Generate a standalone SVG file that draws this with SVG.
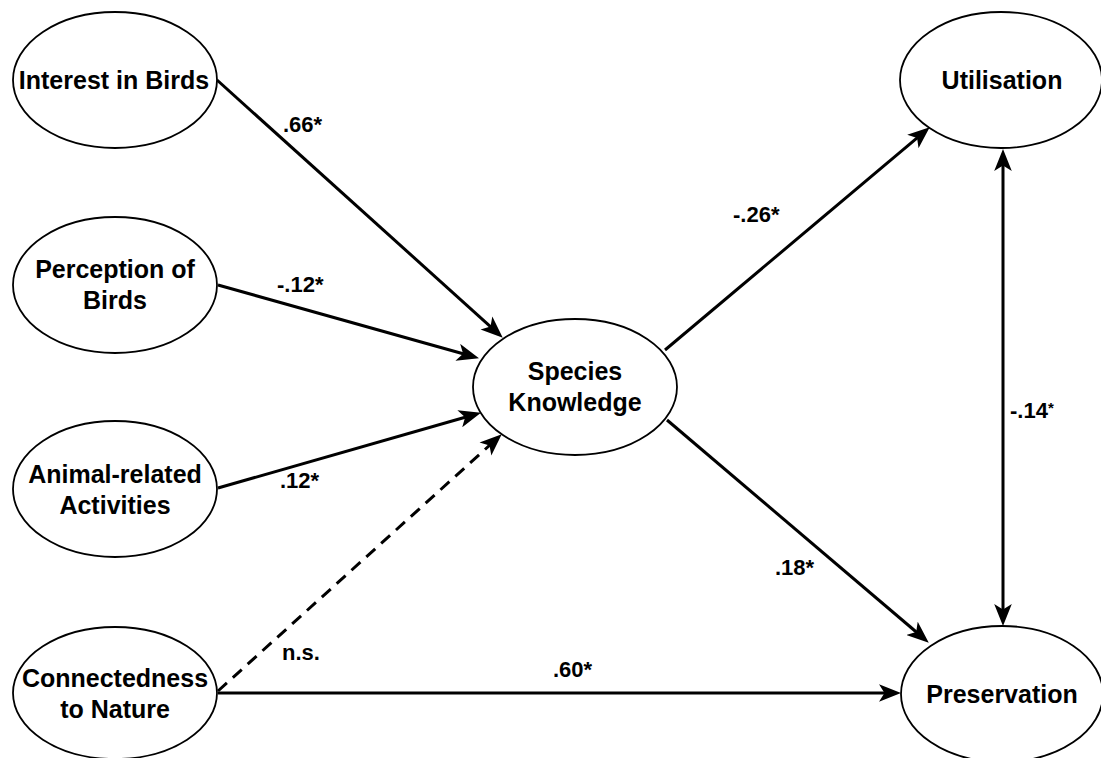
<svg xmlns="http://www.w3.org/2000/svg" width="1101" height="758" viewBox="0 0 1101 758">
  <style>
    .node ellipse { fill: #ffffff; stroke: #000000; stroke-width: 1.8; }
    .node text { font-family: "Liberation Sans", Arial, Helvetica, sans-serif; font-weight: bold; font-size: 25px; fill: #000000; text-anchor: middle; }
    .edge { fill: none; stroke: #000000; stroke-width: 3; }
    .dashed { stroke-dasharray: 12 8; }
    .coef { font-family: "Liberation Sans", Arial, Helvetica, sans-serif; font-weight: bold; font-size: 22px; fill: #000000; }
  </style>
  <defs>
    <marker id="arrow" markerUnits="userSpaceOnUse" markerWidth="22" markerHeight="18" refX="10" refY="8" orient="auto-start-reverse" viewBox="0 0 20 16">
      <path d="M0,0 L20,8 L0,16 L5,8 Z" fill="#000000"/>
    </marker>
  </defs>
  <rect width="1101" height="758" fill="#ffffff"/>

  <!-- path connectors -->
  <g id="connectors">
    <path class="edge" d="M217,80 L494.6,330.3" marker-end="url(#arrow)"/>
    <path class="edge" d="M218,285 L468.4,355.3" marker-end="url(#arrow)"/>
    <path class="edge" d="M218,488 L470.4,415.8" marker-end="url(#arrow)"/>
    <path class="edge dashed" d="M218,691 L493.6,441.7" marker-end="url(#arrow)"/>
    <path class="edge" d="M218,693 L890,693" marker-end="url(#arrow)"/>
    <path class="edge" d="M665,350 L921.3,134.4" marker-end="url(#arrow)"/>
    <path class="edge" d="M667,420 L920.4,635.5" marker-end="url(#arrow)"/>
    <path class="edge" d="M1003,160 L1003,615" marker-start="url(#arrow)" marker-end="url(#arrow)"/>

    <text class="coef" x="283" y="132">.66*</text>
    <text class="coef" x="277" y="292">-.12*</text>
    <text class="coef" x="280" y="488">.12*</text>
    <text class="coef" x="282" y="660">n.s.</text>
    <text class="coef" x="553" y="677">.60*</text>
    <text class="coef" x="733" y="222">-.26*</text>
    <text class="coef" x="775" y="575">.18*</text>
    <text class="coef" x="1010" y="418">-.14<tspan font-size="15" dy="-5">*</tspan></text>
  </g>

  <g id="interest-in-birds" class="node">
    <ellipse cx="115" cy="80" rx="102" ry="68"/>
    <text x="114" y="89">Interest in Birds</text>
  </g>
  <g id="perception-of-birds" class="node">
    <ellipse cx="115" cy="285" rx="102" ry="68"/>
    <text x="115" y="278">Perception of</text>
    <text x="115" y="309">Birds</text>
  </g>
  <g id="animal-related-activities" class="node">
    <ellipse cx="115" cy="489" rx="102" ry="68"/>
    <text x="115" y="483">Animal-related</text>
    <text x="115" y="514">Activities</text>
  </g>
  <g id="connectedness-to-nature" class="node">
    <ellipse cx="115" cy="693" rx="102" ry="66"/>
    <text x="115" y="687">Connectedness</text>
    <text x="115" y="718">to Nature</text>
  </g>
  <g id="species-knowledge" class="node">
    <ellipse cx="575" cy="387" rx="102" ry="68"/>
    <text x="575" y="380">Species</text>
    <text x="575" y="411">Knowledge</text>
  </g>
  <g id="utilisation" class="node">
    <ellipse cx="1001" cy="80" rx="101" ry="68"/>
    <text x="1002" y="89">Utilisation</text>
  </g>
  <g id="preservation" class="node">
    <ellipse cx="1002" cy="694" rx="101" ry="68"/>
    <text x="1002" y="703">Preservation</text>
  </g>
</svg>
